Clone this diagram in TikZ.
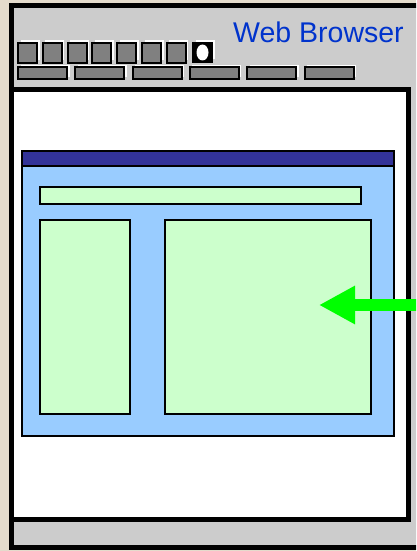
\documentclass[tikz,border=0pt]{standalone}
\usepackage{fontspec}
\setmainfont{Liberation Sans}
\usetikzlibrary{arrows.meta,shadows}

\definecolor{marble}{RGB}{228,219,204}
\definecolor{chrome}{RGB}{204,204,204}
\definecolor{btngray}{RGB}{128,128,128}
\definecolor{titleblue}{RGB}{51,51,153}
\definecolor{pageblue}{RGB}{153,204,255}
\definecolor{panelgreen}{RGB}{204,255,204}
\definecolor{arrowgreen}{RGB}{0,255,0}
\definecolor{textblue}{RGB}{0,51,204}

\tikzset{
  box/.style={draw=black, inner sep=0pt, outer sep=0pt, anchor=north west},
  btn/.style={box, fill=btngray, line width=2pt, general shadow={fill=white, shadow xshift=2.5pt, shadow yshift=2.5pt}},
  panel/.style={box, fill=panelgreen, line width=1.5pt},
  pointer/.style={draw=arrowgreen, line width=12.4pt, -{Triangle[length=36pt,width=36pt]}},
}

\begin{document}
\begin{tikzpicture}[x=1pt, y=-1pt]
    \useasboundingbox (0,0) rectangle (416,551);
    \clip (0,0) rectangle (416,551);
    \fill[marble] (0,0) rectangle (416,551);
    % browser window
    \node[box, fill=chrome, line width=5pt, minimum width=430pt, minimum height=541.5pt] (window) at (11.5,5.5) {};
    \node[text=textblue, font=\fontsize{28.5}{32}\selectfont, anchor=base] (title) at (318.5,42) {Web Browser};
    % toolbar buttons
    \foreach \i in {0,...,6}
        \node[btn, minimum width=19pt, minimum height=20pt] (btn\i) at (18+24.8*\i,43) {};
    \node[btn, fill=black, minimum width=19pt, minimum height=19pt] (home) at (193,43) {};
    \fill[white] (home.center) ellipse [x radius=6pt, y radius=8pt];
    \foreach \i in {0,...,5}
        \node[btn, minimum width=49pt, minimum height=12pt] (tab\i) at (18+57.3*\i,67) {};
    % content area
    \node[box, fill=white, line width=5pt, minimum width=397pt, minimum height=430pt] (content) at (11.5,89.5) {};
    % web page
    \node[box, fill=pageblue, line width=1.5pt, minimum width=372pt, minimum height=285pt] (page) at (22,151) {};
    \node[box, fill=titleblue, line width=1.5pt, minimum width=372pt, minimum height=15pt] (titlebar) at (22,151) {};
    \node[panel, minimum width=321pt, minimum height=17pt] (header) at (40,187) {};
    \node[panel, minimum width=90pt, minimum height=194pt] (sidebar) at (40,220) {};
    \node[panel, minimum width=206pt, minimum height=194pt] (main) at (165,220) {};
    % pointer
    \coordinate (pointerstart) at (430,305);
    \coordinate (pointertip) at (319,305);
    \draw[pointer] (pointerstart) -- (pointertip);
\end{tikzpicture}
\end{document}
